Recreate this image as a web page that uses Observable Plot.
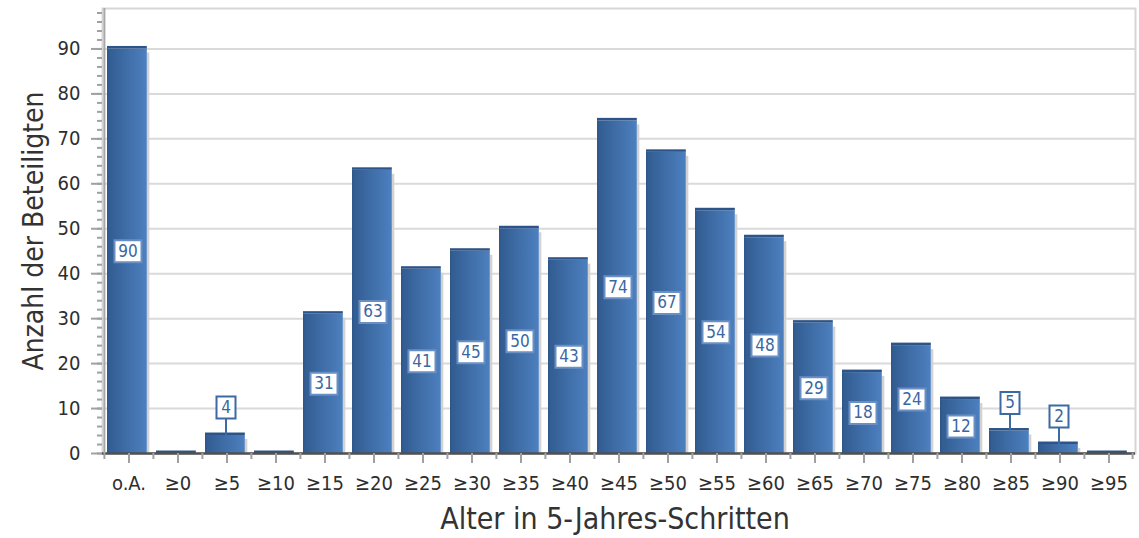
<!DOCTYPE html>
<html><head><meta charset="utf-8">
<script src="https://cdn.jsdelivr.net/npm/d3@7"></script>
<script src="https://cdn.jsdelivr.net/npm/@observablehq/plot@0.6"></script>
<style>
body{margin:0;background:#fff}
#chart svg{display:block}
</style>
</head><body><div id="chart"></div>
<script>
const categories = ["o.A.","≥0","≥5","≥10","≥15","≥20","≥25","≥30","≥35","≥40","≥45","≥50","≥55","≥60","≥65","≥70","≥75","≥80","≥85","≥90","≥95"];
const values = [90,0,4,0,31,63,41,45,50,43,74,67,54,48,29,18,24,12,5,2,0];
const yMajorTicks = [0,10,20,30,40,50,60,70,80,90];
const yMinorTicks = [0,2,4,6,8,10,12,14,16,18,20,22,24,26,28,30,32,34,36,38,40,42,44,46,48,50,52,54,56,58,60,62,64,66,68,70,72,74,76,78,80,82,84,86,88,90,92,94,96,98];
const gridTicks = [10,20,30,40,50,60,70,80,90];
const xTitle = "Alter in 5-Jahres-Schritten";
const yTitle = "Anzahl der Beteiligten";

const W = 1139, H = 538, mL = 102, mR = 4, mT = 8, mB = 85;
const bw = (W - mL - mR) / categories.length;
const FONT = "'DejaVu Sans Condensed', 'DejaVu Sans', sans-serif";

const data = categories.map((c, i) => ({cat: c, v: values[i]}));
const nonzero = data.filter(d => d.v > 0);
const inside = data.filter(d => d.v >= 10);
const outside = data.filter(d => d.v > 0 && d.v < 10);

function boxSymbol(w, h) {
  return {draw(ctx) {
    ctx.moveTo(-w/2, -h/2); ctx.lineTo(w/2, -h/2); ctx.lineTo(w/2, h/2); ctx.lineTo(-w/2, h/2); ctx.closePath();
  }};
}
const box2 = boxSymbol(27, 22);
const box1 = boxSymbol(19, 22);

const defs = () => {
  const d = d3.create("svg:defs");
  const g = d.append("linearGradient").attr("id", "barGrad").attr("x1", "0").attr("x2", "1").attr("y1", "0").attr("y2", "0");
  g.append("stop").attr("offset", "0%").attr("stop-color", "#315b90");
  g.append("stop").attr("offset", "100%").attr("stop-color", "#4d80bf");
  return d.node();
};

const barInL = 3, barInR = bw - 3 - 40;

const chart = Plot.plot({
  width: W, height: H,
  marginLeft: mL, marginRight: mR, marginTop: mT, marginBottom: mB,
  style: {fontFamily: FONT, fontSize: "18px", color: "#333", background: "#fff"},
  x: {domain: categories, padding: 0, label: null, axis: null},
  y: {domain: [0, 99], label: null, axis: null},
  marks: [
    defs,
    Plot.gridY(gridTicks, {stroke: "#dadada", strokeOpacity: 1, strokeWidth: 2}),
    Plot.frame({stroke: "#d6d6d6", strokeWidth: 2}),
    // shadow
    Plot.barY(nonzero, {x: "cat", y: "v", fill: "#d2d2d2", insetLeft: bw - barInR, insetRight: barInR - 2.5, insetTop: 4}),
    // bars
    Plot.barY(data, {x: "cat", y: "v", fill: "url(#barGrad)", insetLeft: barInL, insetRight: barInR}),
    // left darker edge
    Plot.barY(nonzero, {x: "cat", y: "v", fill: "#2d5486", fillOpacity: 0.6, insetLeft: barInL, insetRight: bw - barInL - 1.5}),
    // top edge
    Plot.barY(data, {x: "cat", y1: "v", y2: "v", fill: "#2c5488", insetLeft: barInL, insetRight: barInR, insetTop: -2.5}),
    // axes
    Plot.ruleY([0], {stroke: "#505050", strokeWidth: 2.5}),
    Plot.ruleX([categories[0]], {dx: -bw/2, stroke: "#a8a8a8", strokeWidth: 2}),
    Plot.axisY(yMinorTicks, {tickSize: 5, stroke: "#a0a0a0", strokeWidth: 2, text: null, label: null}),
    Plot.axisY(yMajorTicks, {tickSize: 11, stroke: "#a0a0a0", strokeWidth: 2, text: null, label: null}),
    Plot.axisX({tickSize: 10, stroke: "#a0a0a0", strokeWidth: 2, text: null, label: null}),
    Plot.ruleX(categories, {y1: 0, y2: 0, dx: -bw/2, insetBottom: -6, stroke: "#a0a0a0", strokeWidth: 2}),
    Plot.ruleX([categories[categories.length - 1]], {y1: 0, y2: 0, dx: bw/2 - 1, insetBottom: -6, stroke: "#a0a0a0", strokeWidth: 2}),
    // tick labels
    Plot.text(yMajorTicks, {y: d => d, frameAnchor: "left", textAnchor: "end", lineAnchor: "middle", dx: -22, text: d => String(d), fontSize: 20, fill: "#2e2e2e"}),
    Plot.text(categories, {x: d => d, frameAnchor: "bottom", textAnchor: "middle", lineAnchor: "middle", dy: 30, text: d => d, fontSize: 20, fill: "#2e2e2e"}),
    // connectors for small values
    Plot.ruleX(outside, {x: "cat", y1: "v", y2: "v", insetTop: -18, dx: -1, stroke: "#3d6aa4", strokeWidth: 2}),
    // label boxes
    Plot.dot(inside, {x: "cat", y: d => d.v / 2, dx: -1, symbol: box2, r: 1, fill: "#fff", stroke: "#6a8fc4", strokeWidth: 2}),
    Plot.dot(outside, {x: "cat", y: "v", dx: -1, dy: -28, symbol: box1, r: 1, fill: "#fff", stroke: "#3d6aa4", strokeWidth: 2}),
    Plot.text(inside, {x: "cat", y: d => d.v / 2, dx: -1, text: d => String(d.v), fill: "#3a67a2", fontSize: 17}),
    Plot.text(outside, {x: "cat", y: "v", dx: -1, dy: -28, text: d => String(d.v), fill: "#3a67a2", fontSize: 17}),
    // titles
    Plot.text([xTitle], {frameAnchor: "bottom", lineAnchor: "middle", textAnchor: "middle", dy: 66, dx: -4, text: d => d, fontSize: 30, fill: "#333"}),
    Plot.text([yTitle], {frameAnchor: "left", lineAnchor: "middle", textAnchor: "middle", dx: -68, text: d => d, rotate: -90, fontSize: 28, fill: "#333"})
  ]
});
document.getElementById("chart").appendChild(chart);
</script>
</body></html>
